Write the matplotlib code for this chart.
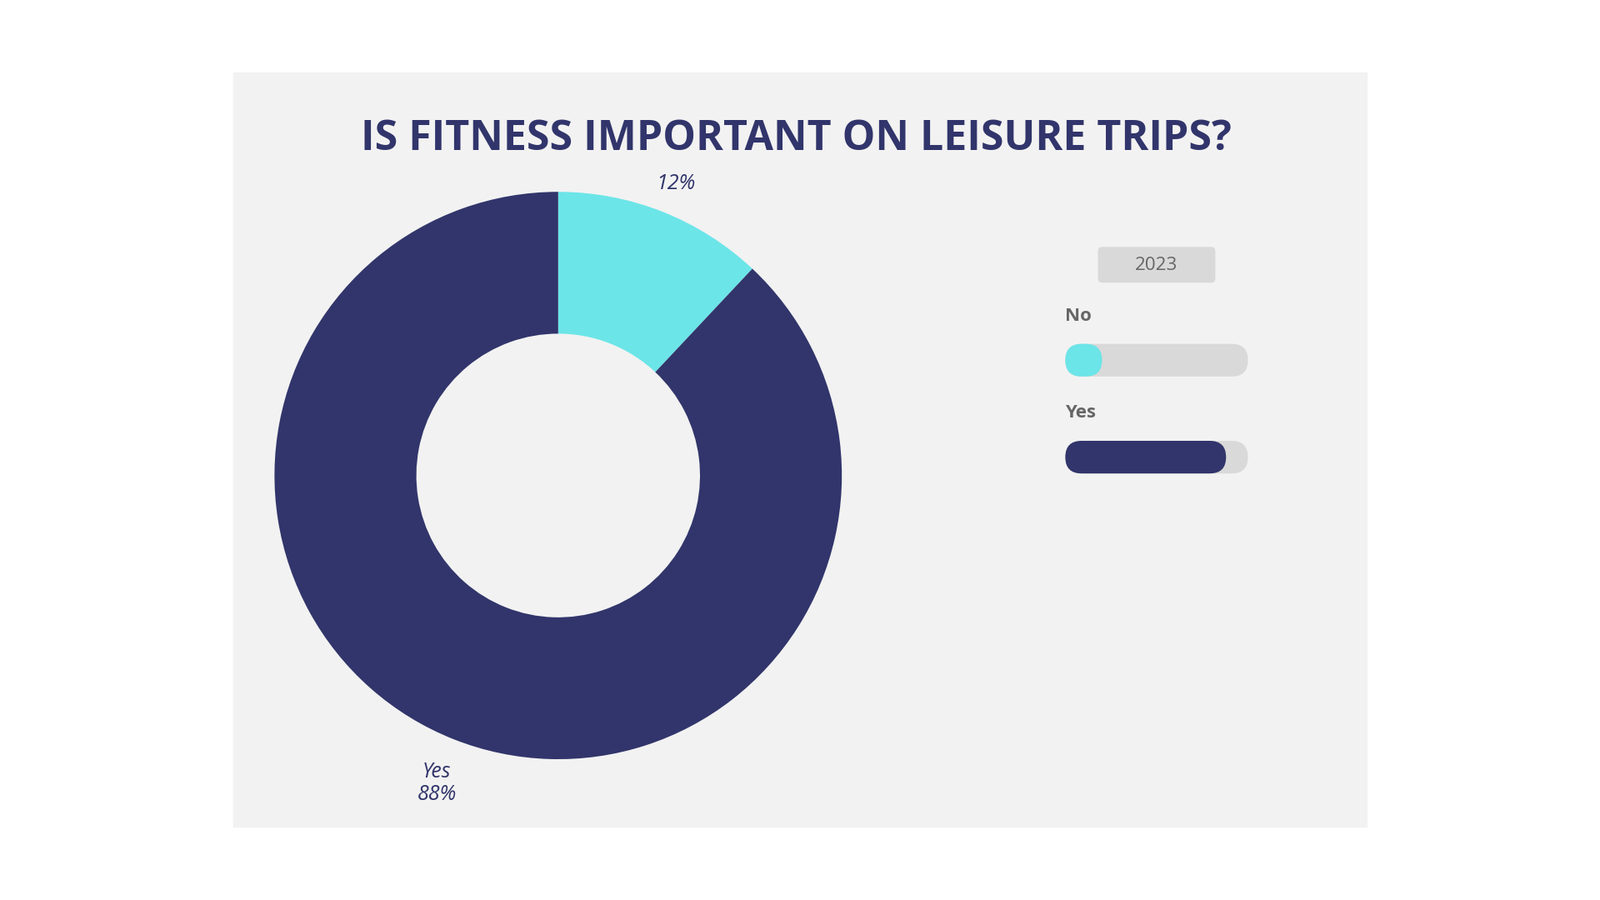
import matplotlib
matplotlib.use("Agg")
import matplotlib.pyplot as plt
from matplotlib.patches import Rectangle, FancyBboxPatch

# data
categories = ["No", "Yes"]
values = [12, 88]
colors = ["#6CE5E8", "#31356B"]
legend_year = "2023"
title = "IS FITNESS IMPORTANT ON LEISURE TRIPS?"

W, H = 1568, 882
NAVY = "#31356B"
GREY = "#666666"

fig = plt.figure(figsize=(19.2, 10.8), dpi=100)
ax = fig.add_axes([0, 0, 1, 1])
ax.set_xlim(0, W)
ax.set_ylim(0, H)
ax.set_aspect("equal")
ax.axis("off")


def Y(y):
    return H - y


ax.add_patch(Rectangle((229, Y(810)), 1110, 739, color="#F2F2F2", zorder=0))

ax.text(780, Y(136), title, ha="center", va="center", fontsize=36,
        fontweight="bold", color=NAVY, family="Open Sans")

ax.pie(values, colors=colors, startangle=90, counterclock=False,
       center=(547, Y(466)), radius=278, frame=True,
       wedgeprops=dict(width=139, linewidth=0))
ax.set_xlim(0, W)
ax.set_ylim(0, H)
ax.axis("off")

ax.text(662, Y(180), f"{values[0]}%", ha="center", va="center", fontsize=18,
        style="italic", color=NAVY, family="Open Sans")
ax.text(428, Y(768), f"{categories[1]}\n{values[1]}%", ha="center", va="center",
        fontsize=18, style="italic", color=NAVY, family="Open Sans", linespacing=1.1)

# legend
ax.add_patch(FancyBboxPatch((1076, Y(277)), 115, 35,
                            boxstyle="round,pad=0,rounding_size=4",
                            color="#D9D9D9", lw=0))
ax.text(1133, Y(260), legend_year, ha="center", va="center", fontsize=16,
        color=GREY, family="Open Sans")

track_x, track_w, bar_h = 1044, 179, 32
for label, val, col, ytop in zip(categories, values, colors, [337, 432]):
    ax.text(track_x, Y(ytop - 27), label, ha="left", va="center", fontsize=16,
            fontweight="bold", color=GREY, family="Open Sans")
    ax.add_patch(FancyBboxPatch((track_x, Y(ytop + bar_h)), track_w, bar_h,
                                boxstyle=f"round,pad=0,rounding_size={bar_h/2}",
                                color="#D9D9D9", lw=0))
    fw = max(track_w * val / 100, bar_h + 4)
    ax.add_patch(FancyBboxPatch((track_x, Y(ytop + bar_h)), fw, bar_h,
                                boxstyle=f"round,pad=0,rounding_size={bar_h/2}",
                                color=col, lw=0))

fig.savefig("out.png", dpi=100, facecolor="white")
